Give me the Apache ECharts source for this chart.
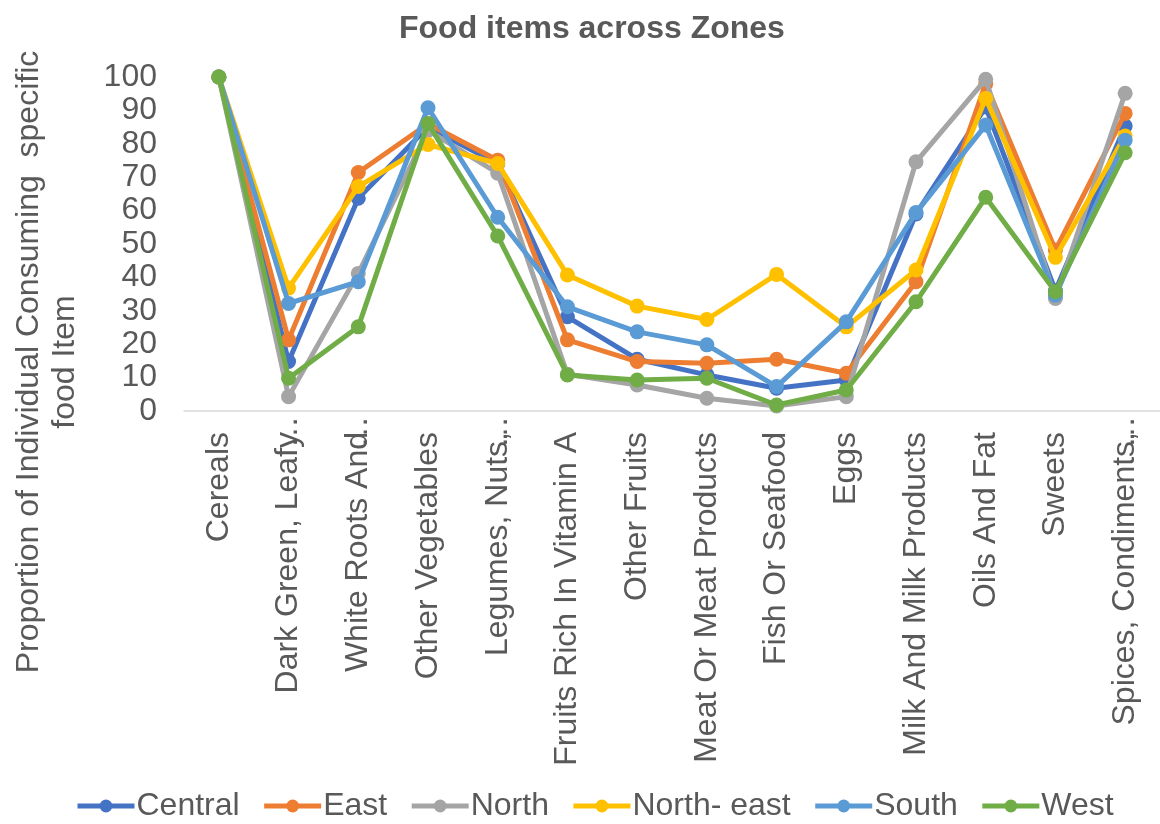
<!DOCTYPE html>
<html>
<head>
<meta charset="utf-8">
<script src="https://cdn.jsdelivr.net/npm/echarts@6/dist/echarts.min.js"></script>
<style>html,body{margin:0;padding:0;background:#fff}#c{width:1160px;height:824px}</style>
</head>
<body>
<div id="c"></div>
<script>
var categories = ["Cereals","Dark Green, Leafy…","White Roots And…","Other Vegetables","Legumes, Nuts,…","Fruits Rich In Vitamin A","Other Fruits","Meat Or Meat Products","Fish Or Seafood","Eggs","Milk And Milk Products","Oils And Fat","Sweets","Spices, Condiments,…"];
var seriesNames = ["Central","East","North","North- east","South","West"];
var central   = [100, 14.8, 63.7, 85, 74, 28.2, 15.5, 10.8, 6.8, 9.3, 59, 91, 36, 85.3];
var east      = [100, 21.3, 71.4, 86, 75.1, 21.3, 14.8, 14.3, 15.5, 11.3, 38.7, 98, 48.2, 89.1];
var north     = [100, 4.3, 41.2, 84, 71.2, 11, 7.8, 3.8, 1.5, 4.3, 74.6, 99.3, 33.7, 95.1];
var northEast = [100, 36.8, 67.2, 79.8, 74.1, 40.7, 31.4, 27.4, 40.9, 25.2, 42.2, 93.6, 46, 82.3];
var south     = [100, 32.2, 38.7, 90.8, 58, 31.2, 23.7, 19.8, 7.3, 26.7, 59.4, 85.6, 34.7, 81.1];
var west      = [100, 9.8, 25.2, 86.1, 52.4, 10.8, 9.3, 9.8, 1.8, 6.3, 32.7, 64, 35.7, 77.3];
var yTicks = [0,10,20,30,40,50,60,70,80,90,100];
var colors = ["#4472C4","#ED7D31","#A5A5A5","#FFC000","#5B9BD5","#70AD47"];
var allData = [central, east, north, northEast, south, west];

var ELL = "\u2026";
function catLabel(v) {
  var i = v.indexOf(ELL);
  if (i >= 0) { return "{a|" + v.substring(0, i) + "}{e|" + ELL + "}"; }
  return "{a|" + v + "}";
}
function yLabel(v) { return yTicks.indexOf(v) >= 0 ? String(v) : ""; }

var chart = echarts.init(document.getElementById("c"), null, {renderer: "canvas"});
var font = "'Liberation Sans', Arial, sans-serif";
var seriesList = [];
for (var k = 0; k < seriesNames.length; k++) {
  seriesList.push({name: seriesNames[k], type: "line", data: allData[k],
    symbol: "circle", symbolSize: 15, lineStyle: {width: 5, color: colors[k]},
    itemStyle: {color: colors[k]}, z: 2 + k});
}
chart.setOption({
  animation: false,
  backgroundColor: "#fff",
  color: colors,
  title: {text: "Food items across Zones", left: 394, top: 8,
    textStyle: {fontFamily: font, fontSize: 32, fontWeight: "bold", color: "#595959"}},
  legend: {top: 790, left: 75, padding: 0, itemWidth: 57, itemHeight: 16, itemGap: 22,
    lineStyle: {width: 5},
    textStyle: {fontFamily: font, fontSize: 32, color: "#595959", padding: [0, 0, 0, -3]},
    data: seriesNames},
  grid: {left: 184, top: 77, width: 980, height: 334, containLabel: false},
  xAxis: {type: "category", data: categories, boundaryGap: true,
    axisLine: {show: true, lineStyle: {color: "#d9d9d9", width: 1.5}},
    axisTick: {show: false},
    axisLabel: {rotate: 90, interval: 0, margin: 21, fontFamily: font, fontSize: 32, color: "#595959",
      formatter: catLabel,
      rich: {a: {fontFamily: font, fontSize: 32, color: "#595959"},
             e: {fontFamily: font, fontSize: 32, color: "#595959", width: 0, align: "left"}}}},
  yAxis: {type: "value", min: 0, max: 100, interval: 10,
    axisLine: {show: false}, axisTick: {show: false}, splitLine: {show: false},
    axisLabel: {margin: 27, fontFamily: font, fontSize: 32, color: "#595959", formatter: yLabel}},
  graphic: [{type: "text", x: 47, y: 362, rotation: Math.PI / 2,
    style: {text: "Proportion of Individual Consuming  specific\nfood Item", align: "center", verticalAlign: "middle",
      font: "32px 'Liberation Sans', Arial, sans-serif", fill: "#595959", lineHeight: 36}}],
  series: seriesList
});
</script>
</body>
</html>
